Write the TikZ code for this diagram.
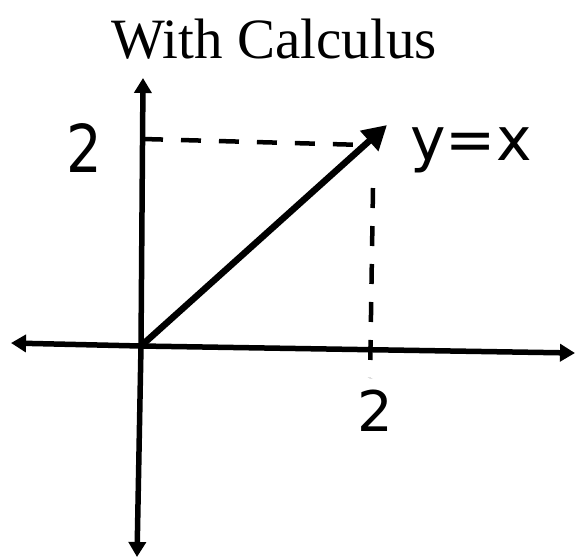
\documentclass[tikz,border=0pt]{standalone}
\usepackage{fontspec}
\setmainfont{Liberation Serif}
\newfontfamily\handfont{DejaVu Sans}
\usetikzlibrary{arrows.meta}
\tikzset{
  axisline/.style={line width=5.5pt, -{Triangle[length=15pt,width=17pt]}},
  vecline/.style={line width=6.5pt, -{Triangle[length=24pt,width=26pt]}},
  guide/.style={line width=4.5pt, dash pattern=on 20pt off 18pt},
  hand/.style={inner sep=0pt}
}
\begin{document}
\begin{tikzpicture}[x=1pt,y=-1pt]
\useasboundingbox (0,0) rectangle (575,558);
% key points
\coordinate (O) at (141,346);
\coordinate (Xl) at (11,343);
\coordinate (Xr) at (575,353);
\coordinate (Yt) at (143,78);
\coordinate (Yb) at (137,557);
\coordinate (P) at (387,125);
\coordinate (Hs) at (143,139);
\coordinate (He) at (365,145);
\coordinate (Vs) at (373,188);
\coordinate (Ve) at (370,378);
% title
\node[anchor=base, inner sep=0pt, font=\fontsize{57}{60}\selectfont] (title) at (274,58) {With Calculus};
% guides
\draw[guide] (Hs) -- (He);
\draw[guide] (Vs) -- (Ve);
% axes
\draw[axisline] (O) -- (Xr);
\draw[axisline] (O) -- (Xl);
\draw[axisline] (O) -- (Yt);
\draw[axisline] (O) -- (Yb);
% vector
\draw[vecline] (O) -- (P);
% labels
\node[hand, font=\handfont\fontsize{66}{66}\selectfont, xscale=0.85] (ylab) at (84,148) {2};
\node[hand, font=\handfont\fontsize{56}{56}\selectfont] (xlab) at (375,411) {2};
\node[hand, font=\handfont\fontsize{60}{60}\selectfont, anchor=base west] (eq) at (410,160) {y=x};
\end{tikzpicture}
\end{document}
